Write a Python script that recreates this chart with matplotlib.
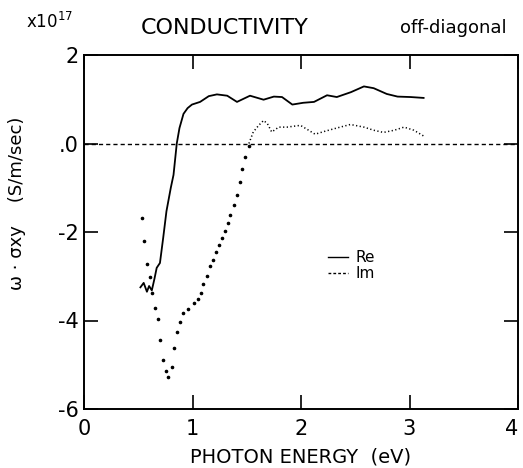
import numpy as np
import matplotlib
matplotlib.use("Agg")
import matplotlib.pyplot as plt
from matplotlib.lines import Line2D

# Re part of omega*sigma_xy (x1e17)
re_x = [0.52, 0.55, 0.58, 0.60, 0.625, 0.65, 0.67, 0.70, 0.73, 0.76, 0.80, 0.825, 0.855,
        0.88, 0.917, 0.955, 0.995, 1.07, 1.15, 1.225, 1.32, 1.41, 1.53, 1.655, 1.75, 1.825,
        1.92, 2.02, 2.12, 2.24, 2.33, 2.46, 2.58, 2.67, 2.79, 2.89, 3.01, 3.13]
re_y = [-3.25, -3.15, -3.35, -3.22, -3.32, -3.05, -2.81, -2.70, -2.13, -1.53, -1.0, -0.71, 0.0,
        0.35, 0.67, 0.80, 0.88, 0.94, 1.07, 1.11, 1.08, 0.94, 1.08, 0.99, 1.06, 1.05,
        0.88, 0.92, 0.94, 1.09, 1.05, 1.16, 1.29, 1.25, 1.12, 1.06, 1.05, 1.03]

# Im part: sparse measured points below ~1.5 eV
im_lo_x = [0.53, 0.555, 0.585, 0.61, 0.63, 0.655, 0.68, 0.70, 0.73, 0.755, 0.775, 0.81,
           0.83, 0.86, 0.886, 0.917, 0.963, 1.01, 1.05, 1.08, 1.10, 1.13, 1.16, 1.19,
           1.215, 1.245, 1.27, 1.295, 1.325, 1.35, 1.38, 1.41, 1.435, 1.46, 1.485, 1.52]
im_lo_y = [-1.69, -2.2, -2.73, -3.02, -3.37, -3.71, -3.97, -4.43, -4.89, -5.15, -5.27, -5.06,
           -4.63, -4.27, -4.04, -3.84, -3.73, -3.61, -3.51, -3.37, -3.18, -3.0, -2.77, -2.64,
           -2.46, -2.30, -2.13, -1.97, -1.80, -1.61, -1.40, -1.16, -0.86, -0.58, -0.30, -0.05]
# Im part: dense curve above ~1.5 eV
im_hi_x = [1.52, 1.56, 1.61, 1.655, 1.69, 1.73, 1.795, 1.87, 1.995, 2.07, 2.13, 2.225,
           2.33, 2.455, 2.58, 2.67, 2.76, 2.86, 2.95, 3.04, 3.13]
im_hi_y = [0.0, 0.26, 0.41, 0.52, 0.45, 0.26, 0.37, 0.37, 0.41, 0.30, 0.21, 0.28,
           0.35, 0.43, 0.37, 0.30, 0.25, 0.30, 0.37, 0.30, 0.17]

x_ticks = [0, 1, 2, 3, 4]
x_labels = ["0", "1", "2", "3", "4"]
y_ticks = [-6, -4, -2, 0, 2]
y_labels = ["-6", "-4", "-2", ".0", "2"]

fig = plt.figure(figsize=(5.23, 4.68), dpi=100)
ax = fig.add_axes([84 / 523, 1 - 409 / 468, (518 - 84) / 523, (409 - 55) / 468])

ax.axhline(0, color="black", lw=1.0, ls=(0, (3, 2.2)), zorder=1)
ax.plot(re_x, re_y, color="black", lw=1.3, solid_joinstyle="round")
ax.plot(im_lo_x, im_lo_y, ls="none", marker="o", ms=1.6, color="black")
ax.plot(im_hi_x, im_hi_y, color="black", lw=1.1, ls=(0, (0.8, 1.6)))

ax.set_xlim(0, 4)
ax.set_ylim(-6, 2)
ax.set_xticks(x_ticks)
ax.set_xticklabels(x_labels)
ax.set_yticks(y_ticks)
ax.set_yticklabels(y_labels)
ax.tick_params(direction="in", length=10, width=1.2, top=True, right=True,
               labelsize=15, pad=4)
ax.tick_params(axis="x", pad=7)
ax.get_xticklabels()[-1].set_ha("right")
ax.get_xticklabels()[-1].set_x(4)
for s in ax.spines.values():
    s.set_linewidth(1.4)

ax.set_xlabel("PHOTON ENERGY  (eV)", fontsize=14, labelpad=6)
fig.text(0.033, 0.565, "ω · σxy    (S/m/sec)", rotation=90, fontsize=13,
         ha="center", va="center")

fig.text(225 / 523, 1 - 28 / 468, "CONDUCTIVITY", fontsize=16, ha="center", va="center")
fig.text(453 / 523, 1 - 28 / 468, "off-diagonal", fontsize=13, ha="center", va="center")
fig.text(50 / 523, 1 - 22 / 468, r"x10$^{17}$", fontsize=12, ha="center", va="center")

handles = [Line2D([], [], color="black", lw=1.0),
           Line2D([], [], color="black", lw=1.0, ls=(0, (2, 1.5)))]
ax.legend(handles, ["Re", "Im"], frameon=False, fontsize=11, handlelength=1.3,
          handletextpad=0.5, labelspacing=0.05,
          loc="center left", bbox_to_anchor=(0.53, 0.405))

fig.savefig("out.png", dpi=100)
